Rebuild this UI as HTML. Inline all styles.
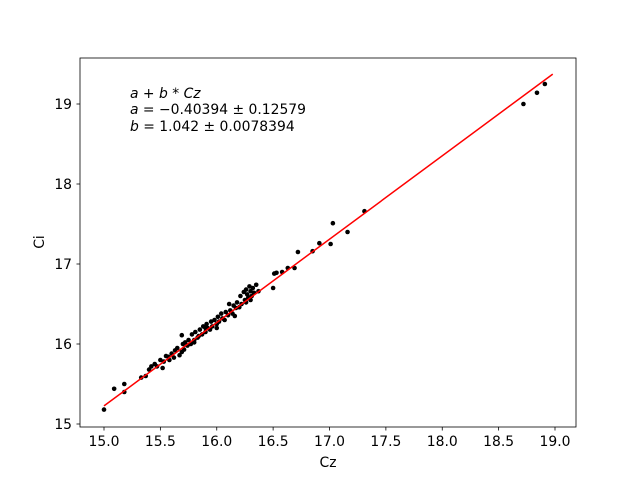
<!DOCTYPE html>
<html><head><meta charset="utf-8"><style>
body{margin:0;background:#fff}
svg text{font-family:"DejaVu Sans","Liberation Sans",sans-serif;font-size:13.9px;fill:#000}
</style></head><body>
<svg id="chart" width="640" height="480">
<rect x="0" y="0" width="640" height="480" fill="#fff"/>
<g id="pts"></g>
<g id="fit"></g>
<rect x="80" y="58" width="496" height="369" fill="none" stroke="#000" stroke-width="0.8"/>
<g id="xt"></g>
<g id="yt"></g>
<text x="328" y="467" text-anchor="middle">Cz</text>
<text x="44" y="242" text-anchor="middle" transform="rotate(-90 44 242)">Ci</text>
<g>
<text x="130" y="98"><tspan font-style="italic">a</tspan> + <tspan font-style="italic">b</tspan> * <tspan font-style="italic">Cz</tspan></text>
<text x="130" y="114"><tspan font-style="italic">a</tspan> = −0.40394 ± 0.12579</text>
<text x="130" y="131"><tspan font-style="italic">b</tspan> = 1.042 ± 0.0078394</text>
</g>
</svg>
<script>
const czValues=[15.0,15.09,15.18,15.18,15.33,15.37,15.4,15.42,15.45,15.5,15.52,15.53,15.55,15.57,15.6,15.62,15.63,15.65,15.67,15.69,15.7,15.71,15.72,15.74,15.75,15.77,15.78,15.8,15.81,15.83,15.84,15.85,15.87,15.88,15.9,15.91,15.92,15.94,15.95,15.96,15.98,16.0,16.01,16.02,16.04,16.05,16.07,16.08,16.1,16.11,16.12,16.14,16.15,16.17,16.18,16.2,16.21,16.22,16.24,16.25,16.26,16.27,16.28,16.29,16.3,16.31,16.32,16.33,16.35,16.37,16.5,16.51,16.53,16.58,16.63,16.69,16.72,16.85,16.91,17.01,17.03,17.16,17.31,18.72,18.84,18.91,15.69,15.8,16.0,16.16,16.26,16.3,15.58,15.47,15.9];
const ciValues=[15.18,15.44,15.5,15.4,15.58,15.6,15.68,15.72,15.75,15.8,15.7,15.78,15.85,15.84,15.88,15.83,15.92,15.95,15.86,15.9,16.0,15.93,16.02,15.98,16.05,16.0,16.12,16.05,16.15,16.08,16.1,16.18,16.12,16.22,16.15,16.25,16.2,16.18,16.28,16.22,16.3,16.25,16.34,16.28,16.38,16.32,16.3,16.4,16.36,16.5,16.42,16.38,16.48,16.45,16.52,16.46,16.6,16.5,16.65,16.55,16.68,16.62,16.58,16.72,16.66,16.6,16.7,16.64,16.74,16.66,16.7,16.88,16.89,16.9,16.95,16.95,17.15,17.16,17.26,17.25,17.51,17.4,17.66,19.0,19.14,19.25,16.11,16.02,16.2,16.35,16.52,16.55,15.8,15.72,16.2];
const xTicks=[15.0,15.5,16.0,16.5,17.0,17.5,18.0,18.5,19.0];
const yTicks=[15,16,17,18,19];
const fitA=-0.40394, fitB=1.042, fitX0=15.0, fitX1=18.98;
const NS='http://www.w3.org/2000/svg';
function sx(v){return 104+(v-15)*112.75;}
function sy(v){return 424-(v-15)*80;}
function mk(t,a,p){const e=document.createElementNS(NS,t);for(const k in a)e.setAttribute(k,a[k]);p.appendChild(e);return e;}
const pts=document.getElementById('pts');
czValues.forEach((x,i)=>{const c=mk('circle',{cx:sx(x),cy:sy(ciValues[i]),r:2.3,fill:'#000'},pts);

});
const fit=document.getElementById('fit');
const ln=mk('line',{x1:sx(fitX0),y1:sy(fitA+fitB*fitX0),x2:sx(fitX1),y2:sy(fitA+fitB*fitX1),stroke:'#f00','stroke-width':1.5},fit);


const xt=document.getElementById('xt');
xTicks.forEach(v=>{const x=sx(v);mk('line',{x1:x,y1:427,x2:x,y2:430.5,stroke:'#000','stroke-width':0.8},xt);
const t=mk('text',{x:x,y:446,'text-anchor':'middle'},xt);t.textContent=v.toFixed(1);

});
const yt=document.getElementById('yt');
yTicks.forEach(v=>{const y=sy(v);mk('line',{x1:76.5,y1:y,x2:80,y2:y,stroke:'#000','stroke-width':0.8},yt);
const t=mk('text',{x:72,y:y+5,'text-anchor':'end'},yt);t.textContent=v;

});
</script>
</body></html>
